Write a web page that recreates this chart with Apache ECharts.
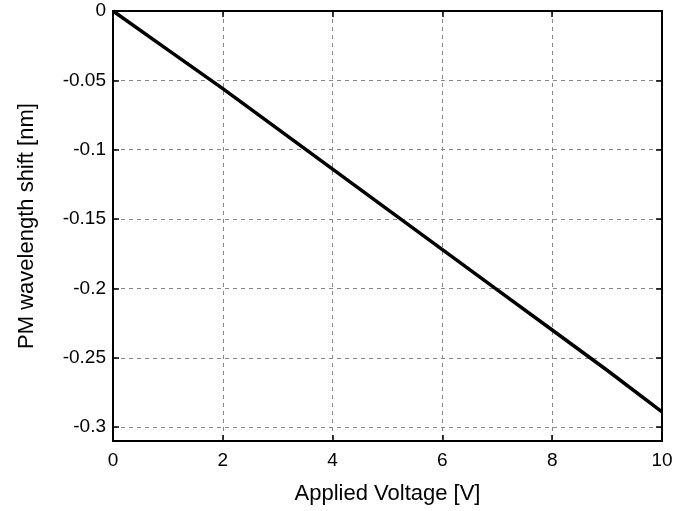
<!DOCTYPE html>
<html>
<head>
<meta charset="utf-8">
<script src="https://cdn.jsdelivr.net/npm/echarts@6/dist/echarts.min.js"></script>
<style>html,body{margin:0;padding:0;background:#fff;}#c{width:695px;height:511px;}</style>
</head>
<body>
<div id="c"></div>
<script>
const voltage = [0, 1, 2, 3, 4, 5, 6, 7, 8, 9, 10];
const shift = [0, -0.028, -0.056, -0.085, -0.114, -0.143, -0.172, -0.201, -0.230, -0.259, -0.289];
const xTicks = [0, 2, 4, 6, 8, 10];
const yTicks = [0, -0.05, -0.1, -0.15, -0.2, -0.25, -0.3];

const font = "'Liberation Sans', Arial, Helvetica, sans-serif";
const chart = echarts.init(document.getElementById('c'), null, {renderer: 'canvas'});
const gridLine = {show: true, lineStyle: {color: '#888', type: [4, 4], width: 1}};
const frame = {show: true, onZero: false, lineStyle: {color: '#000', width: 2}};
const xTick = {show: true, inside: true, length: 6, customValues: xTicks, lineStyle: {color: '#000', width: 1.5}};
const yTick = {show: true, inside: true, length: 6, customValues: yTicks, lineStyle: {color: '#000', width: 1.5}};
const fmt = v => (Math.abs(v) < 1e-9 ? '0' : String(+(+v).toFixed(2)));
chart.setOption({
  animation: false,
  grid: {left: 113, right: 33, top: 11, bottom: 70, containLabel: false},
  xAxis: [{
    type: 'value', min: 0, max: 10, position: 'bottom',
    axisLine: frame, axisTick: xTick, splitLine: gridLine,
    axisLabel: {color: '#000', fontSize: 19, fontFamily: font, margin: 10, customValues: xTicks},
    name: 'Applied Voltage [V]', nameLocation: 'middle', nameGap: 42,
    nameTextStyle: {color: '#000', fontSize: 22, fontFamily: font}
  }, {
    type: 'value', min: 0, max: 10, position: 'top',
    axisLine: frame, axisTick: xTick, splitLine: {show: false}, axisLabel: {show: false}
  }],
  yAxis: [{
    type: 'value', min: -0.31, max: 0, position: 'left',
    axisLine: frame, axisTick: yTick, splitLine: gridLine,
    axisLabel: {color: '#000', fontSize: 19, fontFamily: font, margin: 7, customValues: yTicks, formatter: fmt},
    name: 'PM wavelength shift [nm]', nameLocation: 'middle', nameGap: 75,
    nameTextStyle: {color: '#000', fontSize: 22, fontFamily: font}
  }, {
    type: 'value', min: -0.31, max: 0, position: 'right',
    axisLine: frame, axisTick: yTick, splitLine: {show: false}, axisLabel: {show: false}
  }],
  series: [{
    type: 'line', xAxisIndex: 0, yAxisIndex: 0,
    data: voltage.map((v, i) => [v, shift[i]]),
    showSymbol: false, lineStyle: {color: '#000', width: 3.5}, z: 5
  }]
});
</script>
</body>
</html>
